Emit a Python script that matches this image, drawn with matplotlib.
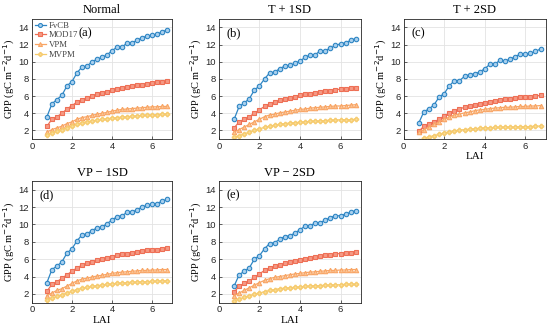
import numpy as np
import matplotlib
matplotlib.use("Agg")
import matplotlib.pyplot as plt

# LAI levels
lai = np.arange(0.75, 6.76, 0.25)

titles = ["Normal", "T + 1SD", "T + 2SD", "VP \u2212 1SD", "VP \u2212 2SD"]
tags = ["(a)", "(b)", "(c)", "(d)", "(e)"]
models = ["FvCB", "MOD17", "VPM", "MVPM"]

# GPP values, one list per model and panel
fvcb = [
    [3.6, 5.1, 5.6, 6.1, 7.2, 7.7, 8.7, 9.4, 9.5, 10.0, 10.3, 10.5, 10.8, 11.3, 11.7, 11.7, 12.2, 12.2, 12.5, 12.8, 13.0, 13.1, 13.2, 13.5, 13.7],
    [3.3, 4.8, 5.2, 5.7, 6.7, 7.2, 8.0, 8.7, 8.8, 9.2, 9.5, 9.6, 9.8, 10.1, 10.5, 10.8, 10.8, 11.3, 11.3, 11.6, 11.9, 12.1, 12.2, 12.5, 12.7],
    [2.9, 4.2, 4.5, 5.0, 5.9, 6.3, 7.2, 7.8, 7.8, 8.3, 8.5, 8.6, 8.8, 9.2, 9.7, 9.7, 10.2, 10.1, 10.3, 10.6, 10.9, 10.9, 11.0, 11.2, 11.5],
    [3.3, 4.8, 5.2, 5.7, 6.7, 7.2, 8.1, 8.8, 8.9, 9.3, 9.6, 9.7, 10.1, 10.5, 10.9, 11.0, 11.4, 11.4, 11.7, 12.0, 12.2, 12.3, 12.4, 12.7, 12.9],
    [2.9, 4.2, 4.6, 5.0, 6.0, 6.4, 7.2, 7.8, 7.9, 8.3, 8.6, 8.7, 9.0, 9.4, 9.8, 9.8, 10.2, 10.2, 10.5, 10.8, 11.0, 11.0, 11.2, 11.4, 11.6],
]
mod17 = [
    [2.5, 3.3, 3.6, 4.0, 4.5, 4.9, 5.3, 5.6, 5.8, 6.0, 6.2, 6.35, 6.5, 6.7, 6.85, 6.95, 7.05, 7.15, 7.25, 7.35, 7.45, 7.5, 7.6, 7.65, 7.75],
    [2.3, 3.0, 3.3, 3.6, 4.0, 4.4, 4.8, 5.1, 5.3, 5.5, 5.65, 5.8, 5.95, 6.1, 6.2, 6.3, 6.4, 6.5, 6.55, 6.65, 6.75, 6.8, 6.85, 6.9, 7.0],
    [1.9, 2.5, 2.75, 3.0, 3.3, 3.7, 4.0, 4.3, 4.5, 4.7, 4.85, 5.0, 5.1, 5.25, 5.35, 5.45, 5.55, 5.65, 5.7, 5.8, 5.85, 5.9, 5.95, 6.0, 6.1],
    [2.3, 3.1, 3.4, 3.8, 4.2, 4.6, 5.0, 5.3, 5.5, 5.7, 5.85, 6.0, 6.15, 6.3, 6.45, 6.55, 6.65, 6.75, 6.85, 6.95, 7.0, 7.05, 7.1, 7.2, 7.3],
    [2.2, 2.9, 3.2, 3.5, 3.9, 4.3, 4.7, 5.0, 5.2, 5.35, 5.5, 5.65, 5.8, 5.95, 6.05, 6.15, 6.25, 6.35, 6.45, 6.5, 6.6, 6.65, 6.7, 6.75, 6.85],
]
vpm = [
    [1.8, 2.1, 2.3, 2.5, 2.8, 3.0, 3.3, 3.5, 3.6, 3.75, 3.9, 4.0, 4.1, 4.25, 4.35, 4.45, 4.5, 4.55, 4.6, 4.65, 4.7, 4.75, 4.75, 4.8, 4.8],
    [1.8, 2.1, 2.4, 2.7, 3.0, 3.3, 3.6, 3.8, 3.9, 4.05, 4.15, 4.25, 4.35, 4.45, 4.5, 4.6, 4.65, 4.7, 4.75, 4.8, 4.85, 4.85, 4.9, 4.95, 5.0],
    [1.8, 2.1, 2.4, 2.7, 3.0, 3.3, 3.55, 3.8, 3.9, 4.05, 4.15, 4.3, 4.4, 4.45, 4.55, 4.6, 4.65, 4.7, 4.7, 4.75, 4.8, 4.8, 4.85, 4.85, 4.9],
    [1.8, 2.1, 2.4, 2.6, 2.9, 3.2, 3.5, 3.7, 3.8, 3.95, 4.05, 4.15, 4.25, 4.35, 4.45, 4.5, 4.55, 4.6, 4.65, 4.7, 4.7, 4.75, 4.75, 4.8, 4.8],
    [1.8, 2.1, 2.4, 2.7, 3.0, 3.3, 3.55, 3.75, 3.9, 4.0, 4.1, 4.2, 4.3, 4.35, 4.45, 4.5, 4.55, 4.6, 4.65, 4.7, 4.7, 4.75, 4.75, 4.8, 4.8],
]
mvpm = [
    [1.5, 1.7, 1.9, 2.1, 2.3, 2.5, 2.7, 2.9, 3.0, 3.1, 3.2, 3.3, 3.35, 3.45, 3.5, 3.55, 3.6, 3.65, 3.7, 3.75, 3.8, 3.8, 3.85, 3.9, 3.9],
    [1.2, 1.4, 1.6, 1.8, 2.0, 2.2, 2.35, 2.5, 2.6, 2.7, 2.8, 2.85, 2.9, 2.95, 3.0, 3.05, 3.1, 3.1, 3.15, 3.2, 3.2, 3.25, 3.25, 3.25, 3.3],
    [0.8, 1.1, 1.25, 1.4, 1.55, 1.7, 1.85, 1.95, 2.05, 2.1, 2.15, 2.2, 2.25, 2.3, 2.3, 2.35, 2.35, 2.4, 2.4, 2.4, 2.45, 2.45, 2.45, 2.5, 2.5],
    [1.3, 1.5, 1.7, 1.9, 2.1, 2.3, 2.5, 2.65, 2.75, 2.85, 2.95, 3.0, 3.1, 3.15, 3.2, 3.25, 3.3, 3.35, 3.35, 3.4, 3.4, 3.45, 3.45, 3.5, 3.5],
    [1.2, 1.4, 1.6, 1.8, 1.95, 2.1, 2.25, 2.4, 2.5, 2.6, 2.65, 2.7, 2.75, 2.8, 2.85, 2.9, 2.95, 2.95, 3.0, 3.0, 3.05, 3.05, 3.1, 3.1, 3.1],
]

colors = ["#2f86c4", "#ee6f55", "#f8a565", "#f6ca6c"]
markers = ["o", "s", "^", "P"]
faces = ["#a9d0ee", "#f59a85", "#fbc392", "#f9dd9a"]

serif = "Liberation Serif"
sans = "Liberation Sans"

fig = plt.figure(figsize=(5.5, 3.31), dpi=100)

# axes rectangles [left, bottom, width, height] in figure fractions
boxes = [
    [0.058, 0.58, 0.255, 0.363],
    [0.398, 0.58, 0.258, 0.363],
    [0.734, 0.58, 0.258, 0.363],
    [0.058, 0.086, 0.255, 0.367],
    [0.398, 0.086, 0.258, 0.367],
]
show_xlabel = [False, False, True, True, True]

for i in range(5):
    ax = fig.add_axes(boxes[i])
    series = [fvcb[i], mod17[i], vpm[i], mvpm[i]]
    for j in range(4):
        ax.plot(lai, series[j], color=colors[j], marker=markers[j], ms=3.2,
                mfc=faces[j], mec=colors[j], mew=0.8, lw=0.9, label=models[j])
    ax.set_xlim(0, 7)
    ax.set_ylim(1, 15)
    ax.set_xticks([0, 2, 4, 6])
    ax.set_yticks([2, 4, 6, 8, 10, 12, 14])
    ax.grid(True, color="#e3e3e3", lw=0.6)
    ax.set_axisbelow(True)
    ax.tick_params(direction="in", length=2.5, width=0.5, labelsize=6.8, pad=2,
                   colors="#262626")
    for lab in ax.get_xticklabels() + ax.get_yticklabels():
        lab.set_fontfamily(sans)
    for s in ax.spines.values():
        s.set_linewidth(0.6)
        s.set_color("#262626")
    ax.set_title(titles[i], fontsize=9, family=serif, pad=4)
    ax.set_ylabel("GPP (gC m$^{-2}$d$^{-1}$)", fontsize=7.5, family=serif, labelpad=1)
    if show_xlabel[i]:
        ax.set_xlabel("LAI", fontsize=8, family=serif, labelpad=1)
    tx = 0.335 if i == 0 else 0.055
    ax.text(tx, 0.93, tags[i], transform=ax.transAxes, fontsize=9, family=serif,
            va="top", ha="left")
    if i == 0:
        leg = ax.legend(loc="upper left", frameon=True, prop={"family": serif, "size": 6.3},
                        handlelength=1.3, handletextpad=0.3, borderaxespad=0.15,
                        labelspacing=0.2, borderpad=0.15, markerscale=0.9)
        leg.get_frame().set_edgecolor("none")
        leg.get_frame().set_alpha(1)
        for t in leg.get_texts():
            t.set_color("#444444")

fig.savefig("out.png", dpi=100)
